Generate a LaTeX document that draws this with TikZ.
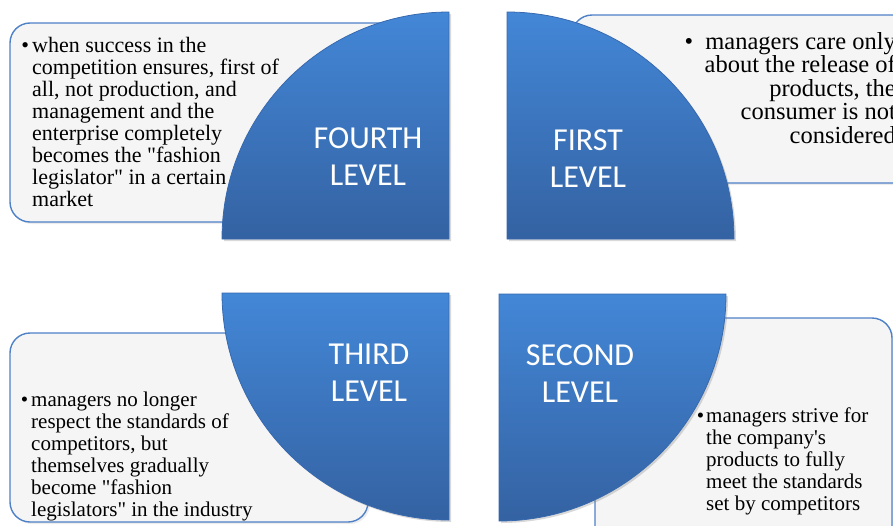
\documentclass[tikz,border=0pt]{standalone}
\usepackage{fontspec}
\setmainfont{Liberation Serif}
\newfontfamily\lvlfont{Carlito}
\usetikzlibrary{shadows}

\definecolor{qtop}{RGB}{67,135,215}
\definecolor{qbot}{RGB}{52,98,162}
\definecolor{qline}{RGB}{55,105,175}
\definecolor{boxline}{RGB}{79,129,199}
\definecolor{boxfill}{RGB}{245,245,245}

\newcommand{\dq}{\textquotedbl}

\tikzset{
  quarter/.style={draw=qline, line width=0.8pt, top color=qtop, bottom color=qbot,
    drop shadow={opacity=0.3, shadow xshift=2pt, shadow yshift=-2pt}},
  infobox/.style={draw=boxline, line width=1.4pt, fill=boxfill, rounded corners=20pt,
    drop shadow={opacity=0.15, shadow xshift=2pt, shadow yshift=-2pt}},
  lvl/.style={text=white, font=\lvlfont\fontsize{32}{37}\selectfont, align=center, inner sep=0pt},
  body/.style={font=\fontsize{21}{22}\selectfont, inner sep=0pt}
}

\begin{document}
\begin{tikzpicture}[x=1pt,y=-1pt]

\useasboundingbox (0,0) rectangle (893,525);
\clip (0,0) rectangle (893,525);

% boxes behind
\draw[infobox] (10,23) rectangle (430,222);
\draw[infobox] (572,15) rectangle (930,183);
\draw[infobox] (10,333) rectangle (368,522);
\draw[infobox] (595,318) rectangle (892,550);

% texts
\node[body, font=\fontsize{22}{22}\selectfont, align=left, anchor=north west] (fourthtxt) at (32,37)
  {\llap{\textbullet\hspace{3pt}}when success in the\\competition ensures, first of\\all, not production, and\\management and the\\enterprise completely\\becomes the \dq fashion\\legislator\dq\ in a certain\\market};
\node[body, font=\fontsize{24.5}{23.5}\selectfont, align=right, anchor=north east] (firsttxt) at (896,32)
  {\textbullet\ \ managers care only\\about the release of\\products, the\\consumer is not\\considered};
\node[body, align=left, anchor=north west] (thirdtxt) at (31,392)
  {\llap{\textbullet\hspace{3pt}}managers no longer\\respect the standards of\\competitors, but\\themselves gradually\\become \dq fashion\\legislators\dq\ in the industry};
\node[body, align=left, anchor=north west] (secondtxt) at (706,408)
  {\llap{\textbullet\hspace{2pt}}managers strive for\\the company\textquotesingle s\\products to fully\\meet the standards\\set by competitors};

% quarters
\coordinate (c4) at (449,239);
\coordinate (c1) at (507,239);
\coordinate (c3) at (449,293);
\coordinate (c2) at (499,294);

\draw[quarter] (c4) -- ++(-227,0) arc[start angle=180, end angle=270, radius=227] -- cycle;
\draw[quarter] (c1) -- ++(0,-227) arc[start angle=270, end angle=360, radius=227] -- cycle;
\draw[quarter] (c3) -- ++(-227,0) arc[start angle=180, end angle=90, radius=227] -- cycle;
\draw[quarter] (c2) -- ++(227,0) arc[start angle=0, end angle=90, radius=227] -- cycle;

% labels
\node[lvl] (fourthlbl) at (368,157) {FOURTH\\LEVEL};
\node[lvl] (firstlbl) at (588,159) {FIRST\\LEVEL};
\node[lvl] (thirdlbl) at (369,373) {THIRD\\LEVEL};
\node[lvl] (secondlbl) at (580,374) {SECOND\\LEVEL};

\end{tikzpicture}
\end{document}
